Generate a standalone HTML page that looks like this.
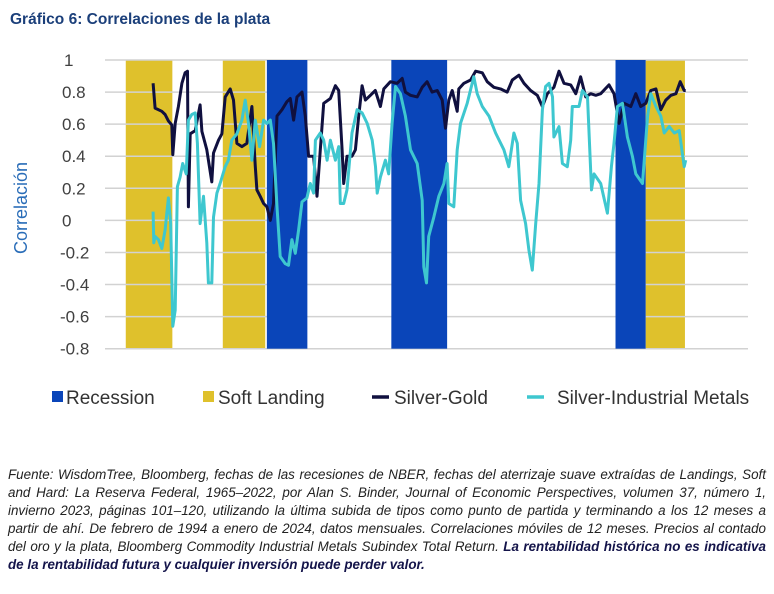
<!DOCTYPE html>
<html><head><meta charset="utf-8">
<style>
html,body{margin:0;padding:0;background:#fff;width:774px;height:594px;overflow:hidden;font-family:"Liberation Sans",sans-serif;}
#title{position:absolute;left:10px;top:11px;font-size:15.5px;font-weight:bold;color:#1b3f7a;}
#note{position:absolute;left:8px;top:466px;width:758px;font-size:13.4px;line-height:18px;font-style:italic;color:#222;text-align:justify;}
#note b{color:#14144a;}
svg{position:absolute;left:0;top:0;}
</style></head><body>
<div id="title">Gráfico 6: Correlaciones de la plata</div>
<svg id="chart" width="774" height="460"></svg>
<div id="note">Fuente: WisdomTree, Bloomberg, fechas de las recesiones de NBER, fechas del aterrizaje suave extraídas de Landings, Soft and Hard: La Reserva Federal, 1965–2022, por Alan S. Binder, Journal of Economic Perspectives, volumen 37, número 1, invierno 2023, páginas 101–120, utilizando la última subida de tipos como punto de partida y terminando a los 12 meses a partir de ahí. De febrero de 1994 a enero de 2024, datos mensuales. Correlaciones móviles de 12 meses. Precios al contado del oro y la plata, Bloomberg Commodity Industrial Metals Subindex Total Return. <b>La rentabilidad histórica no es indicativa de la rentabilidad futura y cualquier inversión puede perder valor.</b></div>
<script>
// months since Feb 1994
const yTicks=[1,0.8,0.6,0.4,0.2,0,-0.2,-0.4,-0.6,-0.8];
const yTickLabels=["1","0.8","0.6","0.4","0.2","0","-0.2","-0.4","-0.6","-0.8"];
const recessions=[[76.7,104],[160.6,198.2],[311.7,332]];
const softLandings=[[-18.4,13],[47,75.6],[332,358.5]];
const goldMonths=[0,1.4,5.9,8.1,10.3,12.6,13.3,14.9,17.1,19.4,21.6,23.2,23.8,25,28.4,31.7,32.9,36.2,39.6,40.7,44.1,46.4,48.6,52,54.2,56.5,59.9,63.2,66.6,68.9,70,72.2,74.5,76.7,79,81.2,83.5,86.9,90.2,92.5,94.7,97,100.4,102.6,104.8,108.2,110.5,112.7,115,119.5,122.9,125.1,127.4,128.5,130.7,134.1,136.4,138.6,140.9,143.1,146.5,149.8,153.2,155.5,160,164.5,167.9,170.1,173.5,178,181.4,184.7,188.1,191.5,194.9,197.1,199.3,201.6,205,206.1,209.5,214,217.4,221.9,225.2,229.7,234.2,238.7,242.1,246.6,250,254.5,259,262.4,265.7,270.2,273.6,277,281.5,284.9,288.2,291.6,295,298.4,301.7,307.3,310.7,314.1,317.5,322,325.4,328.7,332.1,335.5,338.9,342.2,345.6,349,352.4,355.3,358,359];
const goldValues=[0.855,0.70,0.68,0.66,0.62,0.595,0.41,0.605,0.71,0.855,0.92,0.93,0.085,0.54,0.56,0.72,0.555,0.44,0.24,0.42,0.50,0.54,0.77,0.82,0.75,0.48,0.46,0.48,0.71,0.335,0.19,0.15,0.105,0.085,0.0,0.105,0.65,0.69,0.74,0.76,0.625,0.77,0.80,0.65,0.40,0.40,0.15,0.44,0.73,0.76,0.84,0.81,0.44,0.23,0.40,0.40,0.44,0.65,0.84,0.75,0.78,0.81,0.71,0.82,0.865,0.855,0.885,0.80,0.78,0.77,0.83,0.865,0.80,0.81,0.75,0.575,0.75,0.81,0.68,0.82,0.855,0.875,0.93,0.92,0.865,0.83,0.82,0.80,0.875,0.905,0.855,0.81,0.78,0.71,0.79,0.83,0.93,0.855,0.845,0.79,0.895,0.77,0.79,0.78,0.79,0.845,0.79,0.605,0.73,0.71,0.79,0.71,0.73,0.81,0.82,0.69,0.75,0.78,0.79,0.865,0.81,0.81];
const indMonths=[0,0.5,1.4,3.6,5.9,8.1,10.3,11.9,13.3,14.9,16.4,18.2,20,22.3,23.8,26.1,28.4,29.9,31.7,34,36.2,37.3,39.6,40.7,43,45.2,48.6,50.8,53.1,56.5,59.9,62.1,64.3,66.6,68.9,71.8,74.5,76.7,79,81.2,83.5,85.7,89.1,91.3,93.6,95.9,98.1,100.4,103.7,106,108.2,109.4,112.7,115,117.3,119.5,122.9,125.1,126.2,128.5,130.7,134.1,137.5,140.9,144.3,147.7,149.9,151.1,153.2,156.6,158.8,161.1,163.4,166.7,170.1,173.5,178,181.4,182.5,184.3,185.8,189.2,192.6,196,198.2,199.3,202.7,205,207.2,211.7,216.2,218.5,221.9,226.4,230.9,236.5,239.8,243.2,245.5,247.7,251.1,253.3,255.6,257.9,260.1,262.4,264.6,266.9,269.2,270.2,273.6,275.9,279.2,281.5,282.6,287.1,289.4,292.8,295.5,297.2,301.7,306.2,308.9,310.7,313,316.4,319.7,323.1,325.4,329.9,333.3,335.5,338.9,342.2,344.5,347.9,351.3,354.6,358,359];
const indValues=[0.055,-0.14,-0.10,-0.12,-0.175,-0.06,0.14,-0.02,-0.66,-0.56,0.21,0.27,0.355,0.29,0.625,0.66,0.67,0.48,-0.02,0.15,-0.14,-0.39,-0.39,0.02,0.17,0.23,0.335,0.375,0.50,0.54,0.625,0.75,0.605,0.375,0.625,0.46,0.625,0.605,0.625,0.48,0.085,-0.225,-0.27,-0.28,-0.12,-0.205,-0.06,0.115,0.14,0.23,0.17,0.50,0.545,0.50,0.375,0.50,0.375,0.46,0.105,0.105,0.19,0.545,0.69,0.67,0.605,0.50,0.335,0.17,0.27,0.375,0.29,0.605,0.835,0.79,0.65,0.44,0.355,0.125,-0.29,-0.39,-0.10,0.02,0.15,0.23,0.355,0.105,0.085,0.44,0.605,0.73,0.895,0.79,0.71,0.65,0.545,0.44,0.335,0.545,0.48,0.125,-0.02,-0.185,-0.31,-0.02,0.23,0.69,0.835,0.855,0.77,0.52,0.585,0.355,0.335,0.50,0.71,0.71,0.81,0.77,0.19,0.29,0.23,0.045,0.335,0.48,0.71,0.73,0.52,0.40,0.29,0.23,0.65,0.79,0.71,0.65,0.545,0.585,0.545,0.56,0.335,0.375];

const NS="http://www.w3.org/2000/svg";
const svg=document.getElementById('chart');
const X0=105,X1=748,M0=-32.4,M1=401;
const Y0=60,Y1=348.7,V0=1,V1=-0.8;
const xs=m=>X0+(m-M0)/(M1-M0)*(X1-X0);
const ys=v=>Y0+(v-V0)/(V1-V0)*(Y1-Y0);
function mk(tag,attrs){const e=document.createElementNS(NS,tag);for(const k in attrs)e.setAttribute(k,attrs[k]);svg.appendChild(e);return e;}

softLandings.forEach(b=>{
  const r=mk('rect',{x:xs(b[0]),y:Y0,width:xs(b[1])-xs(b[0]),height:Y1-Y0,fill:'#dfc12c'});
  
  
});
yTicks.forEach((t,i)=>{
  const l=mk('line',{x1:X0,x2:X1,y1:ys(t),y2:ys(t),stroke:'#d2d2d2','stroke-width':1.5});
  
  
  const tx=mk('text',{x:t<0?60:(t===1?64:62),y:ys(t)+6,'text-anchor':'start','font-size':17,fill:'#404040','font-family':'Liberation Sans, sans-serif'});
  tx.textContent=yTickLabels[i];
  
  
});
recessions.forEach(b=>{
  const r=mk('rect',{x:xs(b[0]),y:Y0,width:xs(b[1])-xs(b[0]),height:Y1-Y0,fill:'#0a45b9'});
  
  
});
function line(ms,vs,color,name){
  const d=ms.map((m,i)=>(i?'L':'M')+xs(m).toFixed(1)+' '+ys(vs[i]).toFixed(1)).join(' ');
  const p=mk('path',{d:d,fill:'none',stroke:color,'stroke-width':3,'stroke-linejoin':'round'});
  
  
}
line(goldMonths,goldValues,'#10103f','silver-gold-line');
line(indMonths,indValues,'#3ec7cf','silver-industrial-metals-line');

const yt=mk('text',{x:0,y:0,transform:'translate(27,208) rotate(-90)','text-anchor':'middle','font-size':18,fill:'#2a6db8','font-family':'Liberation Sans, sans-serif'});
yt.textContent='Correlación';



const legend=[['rect','#0a45b9',52,'Recession',66,'legend-recession'],['rect','#dfc12c',203,'Soft Landing',218,'legend-soft-landing'],['line','#10103f',372,'Silver-Gold',394,'legend-silver-gold'],['line','#3ec7cf',527,'Silver-Industrial Metals',557,'legend-silver-industrial-metals']];
legend.forEach(l=>{
  const g=document.createElementNS(NS,'g');svg.appendChild(g);
  
  
  let s;
  if(l[0]==='rect'){s=document.createElementNS(NS,'rect');s.setAttribute('x',l[2]);s.setAttribute('y',391);s.setAttribute('width',11);s.setAttribute('height',11);s.setAttribute('fill',l[1]);}
  else{s=document.createElementNS(NS,'line');s.setAttribute('x1',l[2]);s.setAttribute('x2',l[2]+17);s.setAttribute('y1',397);s.setAttribute('y2',397);s.setAttribute('stroke',l[1]);s.setAttribute('stroke-width',3.5);}
  g.appendChild(s);
  const t=document.createElementNS(NS,'text');t.setAttribute('x',l[4]);t.setAttribute('y',404);t.setAttribute('font-size',19);t.setAttribute('fill','#333');t.setAttribute('font-family','Liberation Sans, sans-serif');t.textContent=l[3];g.appendChild(t);
});
</script>
</body></html>
